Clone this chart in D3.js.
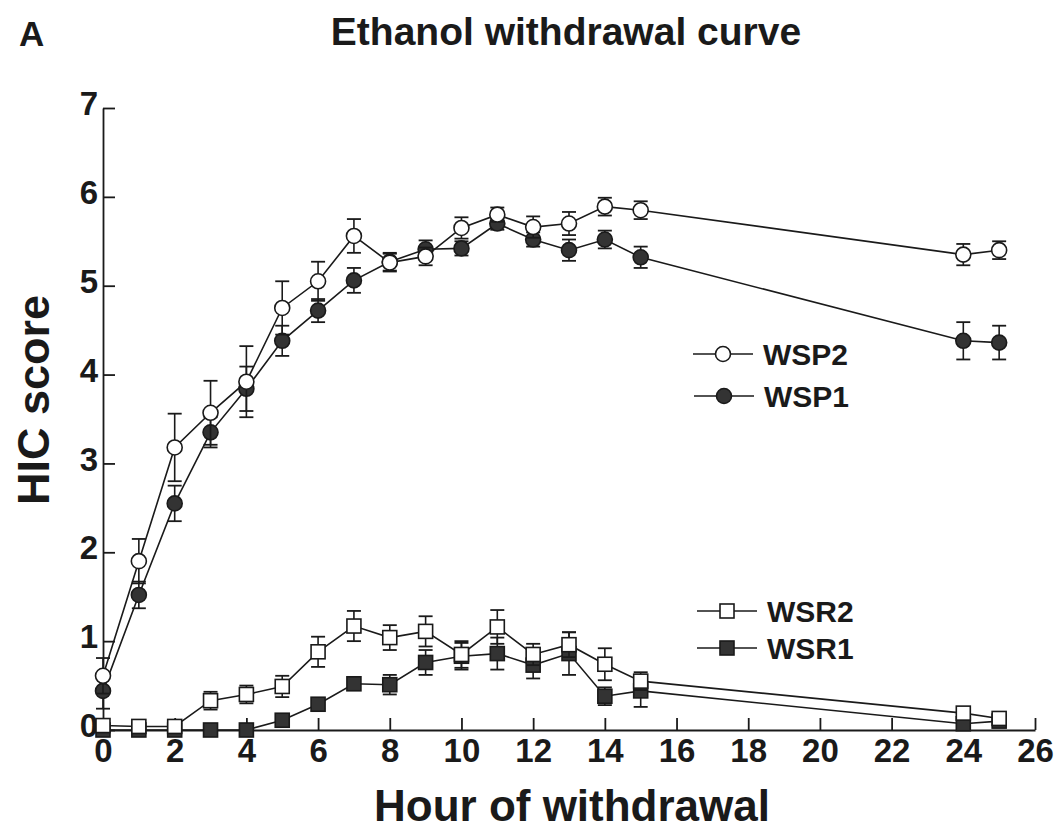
<!DOCTYPE html>
<html><head><meta charset="utf-8">
<script src="https://cdn.jsdelivr.net/npm/d3@7"></script>
<style>body{margin:0;background:#fff}svg{display:block}</style>
</head><body>
<svg id="c" width="1060" height="840"></svg>
<script>
const hours = [0,1,2,3,4,5,6,7,8,9,10,11,12,13,14,15,24,25];
const wsp2 = [0.61,1.90,3.18,3.57,3.92,4.75,5.05,5.56,5.26,5.33,5.65,5.80,5.66,5.70,5.89,5.85,5.35,5.40];
const wsp2Err = [0.20,0.25,0.38,0.36,0.40,0.30,0.22,0.19,0.10,0.10,0.12,0.08,0.12,0.13,0.10,0.10,0.12,0.10];
const wsp1 = [0.44,1.52,2.55,3.35,3.84,4.38,4.72,5.06,5.27,5.41,5.42,5.70,5.52,5.40,5.52,5.32,4.38,4.36];
const wsp1Err = [0.20,0.15,0.20,0.17,0.25,0.17,0.13,0.14,0.10,0.10,0.08,0.07,0.08,0.12,0.10,0.12,0.21,0.19];
const wsr2 = [0.05,0.04,0.04,0.33,0.40,0.49,0.88,1.17,1.04,1.11,0.85,1.16,0.85,0.96,0.74,0.55,0.19,0.13];
const wsr2Err = [0.03,0.03,0.03,0.10,0.10,0.12,0.17,0.17,0.14,0.17,0.15,0.19,0.12,0.14,0.18,0.10,0.04,0.04];
const wsr1 = [0.00,0.00,0.00,0.00,0.00,0.11,0.29,0.52,0.51,0.76,0.83,0.86,0.73,0.86,0.38,0.44,0.07,0.10];
const wsr1Err = [0.00,0.00,0.00,0.00,0.00,0.02,0.05,0.07,0.11,0.14,0.15,0.18,0.15,0.24,0.10,0.18,0.02,0.02];
const xTicks = [0,2,4,6,8,10,12,14,16,18,20,22,24,26];
const yTicks = [0,1,2,3,4,5,6,7];

const svg = d3.select("#c");
const x = d3.scaleLinear().domain([0,26]).range([103,1035]);
const y = d3.scaleLinear().domain([0,7]).range([730,108]);
const FONT = "'Liberation Sans', Arial, sans-serif";
const ink = "#1a1a1a";

// axes
const gx = svg.append("g").attr("transform",`translate(0,${y(0)})`)
  .call(d3.axisBottom(x).tickValues(xTicks).tickFormat(d3.format("d")).tickSize(-12).tickPadding(15).tickSizeOuter(0));
const gy = svg.append("g").attr("transform",`translate(${x(0)},0)`)
  .call(d3.axisLeft(y).tickValues(yTicks).tickFormat(d3.format("d")).tickSize(-12).tickPadding(5).tickSizeOuter(0));
[gx,gy].forEach(g=>{
  g.select(".domain").attr("stroke",ink).attr("stroke-width",1.8);
  g.selectAll(".tick line").attr("stroke",ink).attr("stroke-width",1.8);
  g.selectAll(".tick text").attr("fill",ink).attr("font-family",FONT)
    .attr("font-weight","bold").attr("font-size",33);
});
gy.selectAll(".tick text").attr("dy","0.2em");
gx.selectAll(".tick text").attr("dy","0.5em");

// series
const series = [
  {v:wsr1, e:wsr1Err, shape:"square", fill:"#333"},
  {v:wsr2, e:wsr2Err, shape:"square", fill:"#fff"},
  {v:wsp1, e:wsp1Err, shape:"circle", fill:"#333"},
  {v:wsp2, e:wsp2Err, shape:"circle", fill:"#fff"}
];
const line = d3.line().x(d=>x(d[0])).y(d=>y(d[1]));
series.forEach(s=>{
  const pts = hours.map((h,i)=>[h,s.v[i],s.e[i]]);
  const g = svg.append("g");
  pts.forEach(p=>{
    if(p[2]<=0) return;
    const cx=x(p[0]), t=y(p[1]+p[2]), b=y(p[1]-p[2]);
    g.append("line").attr("x1",cx).attr("x2",cx).attr("y1",t).attr("y2",b).attr("stroke",ink).attr("stroke-width",1.6);
    [t,b].forEach(yy=>g.append("line").attr("x1",cx-7).attr("x2",cx+7).attr("y1",yy).attr("y2",yy).attr("stroke",ink).attr("stroke-width",1.8));
  });
  g.append("path").datum(pts).attr("d",line).attr("fill","none").attr("stroke",ink).attr("stroke-width",1.6);
  pts.forEach(p=>{
    if(s.shape==="circle"){
      g.append("circle").attr("cx",x(p[0])).attr("cy",y(p[1])).attr("r",7.5)
        .attr("fill",s.fill).attr("stroke",ink).attr("stroke-width",1.6);
    } else {
      g.append("rect").attr("x",x(p[0])-7).attr("y",y(p[1])-7).attr("width",14).attr("height",14)
        .attr("fill",s.fill).attr("stroke",ink).attr("stroke-width",1.6);
    }
  });
});

// legend
const legend = [
  {name:"WSP2", shape:"circle", fill:"#fff", lx:693, ly:354},
  {name:"WSP1", shape:"circle", fill:"#333", lx:694, ly:396},
  {name:"WSR2", shape:"square", fill:"#fff", lx:697, ly:611},
  {name:"WSR1", shape:"square", fill:"#333", lx:697, ly:648}
];
legend.forEach(l=>{
  const g = svg.append("g");
  g.append("line").attr("x1",l.lx).attr("x2",l.lx+60).attr("y1",l.ly).attr("y2",l.ly).attr("stroke",ink).attr("stroke-width",1.6);
  if(l.shape==="circle") g.append("circle").attr("cx",l.lx+30).attr("cy",l.ly).attr("r",7.5).attr("fill",l.fill).attr("stroke",ink).attr("stroke-width",1.6);
  else g.append("rect").attr("x",l.lx+23).attr("y",l.ly-7).attr("width",14).attr("height",14).attr("fill",l.fill).attr("stroke",ink).attr("stroke-width",1.6);
  g.append("text").attr("x",l.lx+70).attr("y",l.ly).attr("dy","0.36em").text(l.name)
    .attr("font-family",FONT).attr("font-weight","bold").attr("font-size",30).attr("fill",ink);
});

// titles
svg.append("text").attr("x",19).attr("y",46).text("A")
  .attr("font-family",FONT).attr("font-weight","bold").attr("font-size",35).attr("fill",ink);
svg.append("text").attr("x",566).attr("y",45).attr("text-anchor","middle").text("Ethanol withdrawal curve")
  .attr("font-family",FONT).attr("font-weight","bold").attr("font-size",39).attr("fill",ink);
svg.append("text").attr("x",572).attr("y",821).attr("text-anchor","middle").text("Hour of withdrawal")
  .attr("font-family",FONT).attr("font-weight","bold").attr("font-size",44).attr("fill",ink);
svg.append("text").attr("transform","translate(49,400) rotate(-90)").attr("text-anchor","middle").text("HIC score")
  .attr("font-family",FONT).attr("font-weight","bold").attr("font-size",45).attr("fill",ink);
</script>
</body></html>
